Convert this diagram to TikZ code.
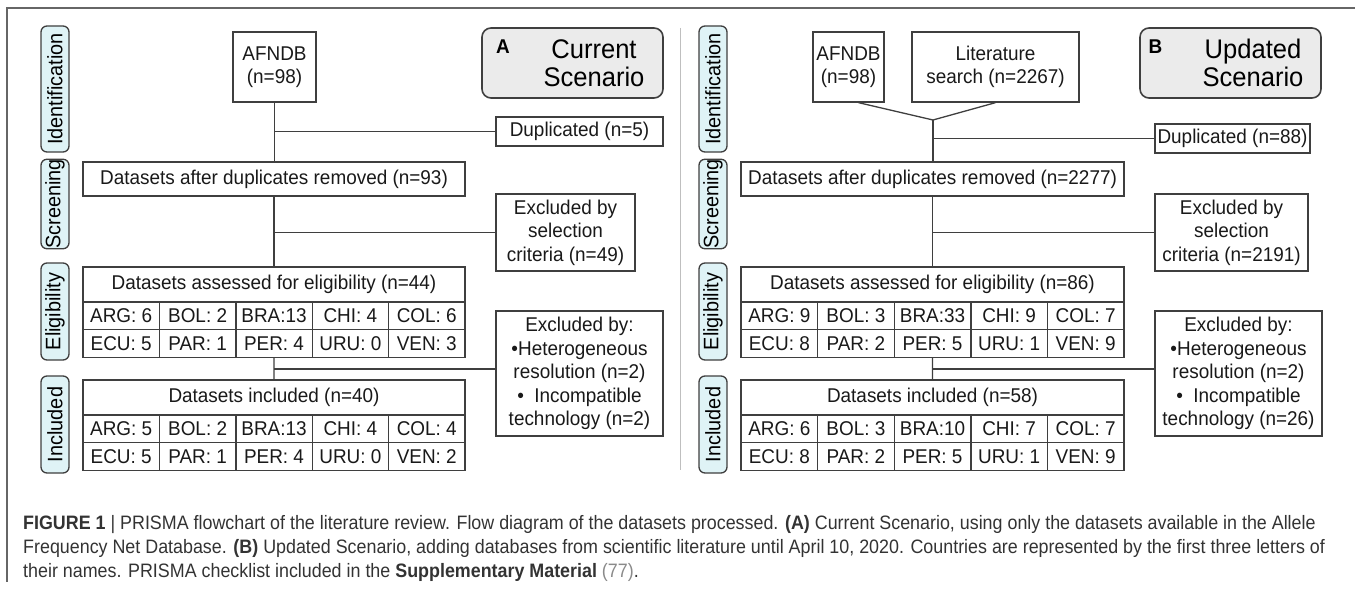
\documentclass[tikz,border=0pt]{standalone}
\usepackage{fontspec}
\setmainfont{Liberation Sans}[FakeStretch=0.95]
\newfontfamily\capfont[FakeStretch=0.92]{Liberation Sans}
\definecolor{edge}{HTML}{3F3F3F}
\definecolor{pillfill}{HTML}{DFF3F6}
\definecolor{scenfill}{HTML}{EBEBEB}
\definecolor{captext}{HTML}{333333}
\definecolor{refgray}{HTML}{8A8A8A}
\tikzset{
  box/.style={draw=edge, line width=1.3bp, inner sep=0pt, align=center, text=black!90, font=\fontsize{20}{23.5}\selectfont},
  cell/.style={box, minimum width=76.5bp, minimum height=27.5bp},
  pill/.style={draw=edge, fill=pillfill, line width=1.3bp, rounded corners=6bp, rotate=90, inner sep=0pt, minimum height=28bp, font=\fontsize{21}{23.5}\selectfont},
  scen/.style={draw=edge, fill=scenfill, line width=1.6bp, rounded corners=9bp, minimum width=181bp, minimum height=70bp},
  title/.style={align=center, inner sep=0pt, font=\fontsize{27}{28}\selectfont},
  letter/.style={inner sep=0pt, font=\bfseries\fontsize{20}{20}\selectfont},
  link/.style={draw=edge, line width=1.3bp},
  caption/.style={anchor=base west, inner sep=0pt, text=captext, font=\capfont\fontsize{19.5}{24}\selectfont}
}
\begin{document}
\begin{tikzpicture}[x=1bp, y=-1bp]
\useasboundingbox (0,0) rectangle (1355,590);
\draw[gray!80!black, line width=1.2bp] (1355,8) -- (7,8) -- (7,582);
\draw[gray!50, line width=1bp] (680,28) -- (680,470);

\node[pill, minimum width=126bp] (idA) at (55,89) {Identification};
\node[pill, minimum width=88bp] (scrA) at (55,204) {Screening};
\node[pill, minimum width=97bp] (eliA) at (55,311.5) {Eligibility};
\node[pill, minimum width=97bp] (incA) at (55,424.5) {Included};

\node[box, minimum width=83bp, minimum height=70bp] (afA) at (274.5,67) {AFNDB\\(n=98)};
\node[scen] (scA) at (572.5,63) {};
\node[letter] (ltA) at (503,47) {A};
\node[title] (ttA) at (594,63) {Current\\Scenario};
\node[box, minimum width=167bp, minimum height=29bp] (dupA) at (579.5,131.5) {Duplicated (n=5)};
\node[box, minimum width=382bp, minimum height=34bp] (remA) at (274,179) {Datasets after duplicates removed (n=93)};
\node[box, minimum width=139bp, minimum height=77bp] (selA) at (565.5,232.5) {Excluded by\\selection\\criteria (n=49)};
\node[box, minimum width=382bp, minimum height=35bp] (assA) at (274,284.5) {Datasets assessed for eligibility (n=44)};
\foreach \t [count=\i] in {ARG: 6,BOL: 2,BRA:13,CHI: 4,COL: 6}
  \node[cell] (eA1\i) at (44.8+76.4*\i,316) {\t};
\foreach \t [count=\i] in {ECU: 5,PAR: 1,PER: 4,URU: 0,VEN: 3}
  \node[cell] (eA2\i) at (44.8+76.4*\i,343.5) {\t};
\node[box, minimum width=167bp, minimum height=125bp] (excA) at (579.5,373.5) {Excluded by:\\•Heterogeneous\\resolution (n=2)\\•\ \ Incompatible\\technology (n=2)};
\node[box, minimum width=382bp, minimum height=35bp] (inA) at (274,397.5) {Datasets included (n=40)};
\foreach \t [count=\i] in {ARG: 5,BOL: 2,BRA:13,CHI: 4,COL: 4}
  \node[cell] (iA1\i) at (44.8+76.4*\i,429) {\t};
\foreach \t [count=\i] in {ECU: 5,PAR: 1,PER: 4,URU: 0,VEN: 2}
  \node[cell] (iA2\i) at (44.8+76.4*\i,456.5) {\t};
\coordinate (jA) at (274,369);
\draw[link] (afA.south) -- (afA.south |- remA.north);
\draw[link] (afA.south |- dupA.west) -- (dupA.west);
\draw[link] (remA.south) -- (assA.north);
\draw[link] (remA.south |- selA.west) -- (selA.west);
\draw[link] (eA23.south) -- (inA.north);
\draw[link] (jA) -- (jA -| excA.west);

\node[pill, minimum width=126bp] (idB) at (713,89) {Identification};
\node[pill, minimum width=88bp] (scrB) at (713,204) {Screening};
\node[pill, minimum width=97bp] (eliB) at (713,311.5) {Eligibility};
\node[pill, minimum width=97bp] (incB) at (713,424.5) {Included};

\node[box, minimum width=71bp, minimum height=70bp] (afB) at (848.5,67) {AFNDB\\(n=98)};
\node[box, minimum width=167bp, minimum height=70bp] (litB) at (995.5,67) {Literature\\search (n=2267)};
\node[scen] (scB) at (1230.5,63) {};
\node[letter] (ltB) at (1155.5,47) {B};
\node[title] (ttB) at (1253,63) {Updated\\Scenario};
\node[box, minimum width=155bp, minimum height=29bp] (dupB) at (1232.5,138.5) {Duplicated (n=88)};
\node[box, minimum width=383bp, minimum height=34bp] (remB) at (932.5,179) {Datasets after duplicates removed (n=2277)};
\node[box, minimum width=153bp, minimum height=77bp] (selB) at (1231.5,232.5) {Excluded by\\selection\\criteria (n=2191)};
\node[box, minimum width=383bp, minimum height=35bp] (assB) at (932.5,284.5) {Datasets assessed for eligibility (n=86)};
\foreach \t [count=\i] in {ARG: 9,BOL: 3,BRA:33,CHI: 9,COL: 7}
  \node[cell] (eB1\i) at (702.7+76.6*\i,316) {\t};
\foreach \t [count=\i] in {ECU: 8,PAR: 2,PER: 5,URU: 1,VEN: 9}
  \node[cell] (eB2\i) at (702.7+76.6*\i,343.5) {\t};
\node[box, minimum width=167bp, minimum height=125bp] (excB) at (1238.5,373.5) {Excluded by:\\•Heterogeneous\\resolution (n=2)\\•\ \ Incompatible\\technology (n=26)};
\node[box, minimum width=383bp, minimum height=35bp] (inB) at (932.5,397.5) {Datasets included (n=58)};
\foreach \t [count=\i] in {ARG: 6,BOL: 3,BRA:10,CHI: 7,COL: 7}
  \node[cell] (iB1\i) at (702.7+76.6*\i,429) {\t};
\foreach \t [count=\i] in {ECU: 8,PAR: 2,PER: 5,URU: 1,VEN: 9}
  \node[cell] (iB2\i) at (702.7+76.6*\i,456.5) {\t};
\coordinate (jB) at (933,120);
\coordinate (kB) at (933,369);
\draw[link] ([xshift=10bp]afB.south) -- (jB) -- (litB.south);
\draw[link] (jB) -- (jB |- remB.north);
\draw[link] (jB |- dupB.west) -- (dupB.west);
\draw[link] (remB.south) -- (assB.north);
\draw[link] (remB.south |- selB.west) -- (selB.west);
\draw[link] (eB23.south) -- (inB.north);
\draw[link] (kB) -- (kB -| excB.west);

\node[caption] (cap1) at (23,529) {\textbf{FIGURE 1} | PRISMA flowchart of the literature review. Flow diagram of the datasets processed. \textbf{(A)} Current Scenario, using only the datasets available in the Allele};
\node[caption] (cap2) at (23,553) {Frequency Net Database. \textbf{(B)} Updated Scenario, adding databases from scientific literature until April 10, 2020. Countries are represented by the first three letters of};
\node[caption] (cap3) at (23,577) {their names. PRISMA checklist included in the \textbf{Supplementary Material} {\color{refgray}(77)}.};
\end{tikzpicture}
\end{document}
